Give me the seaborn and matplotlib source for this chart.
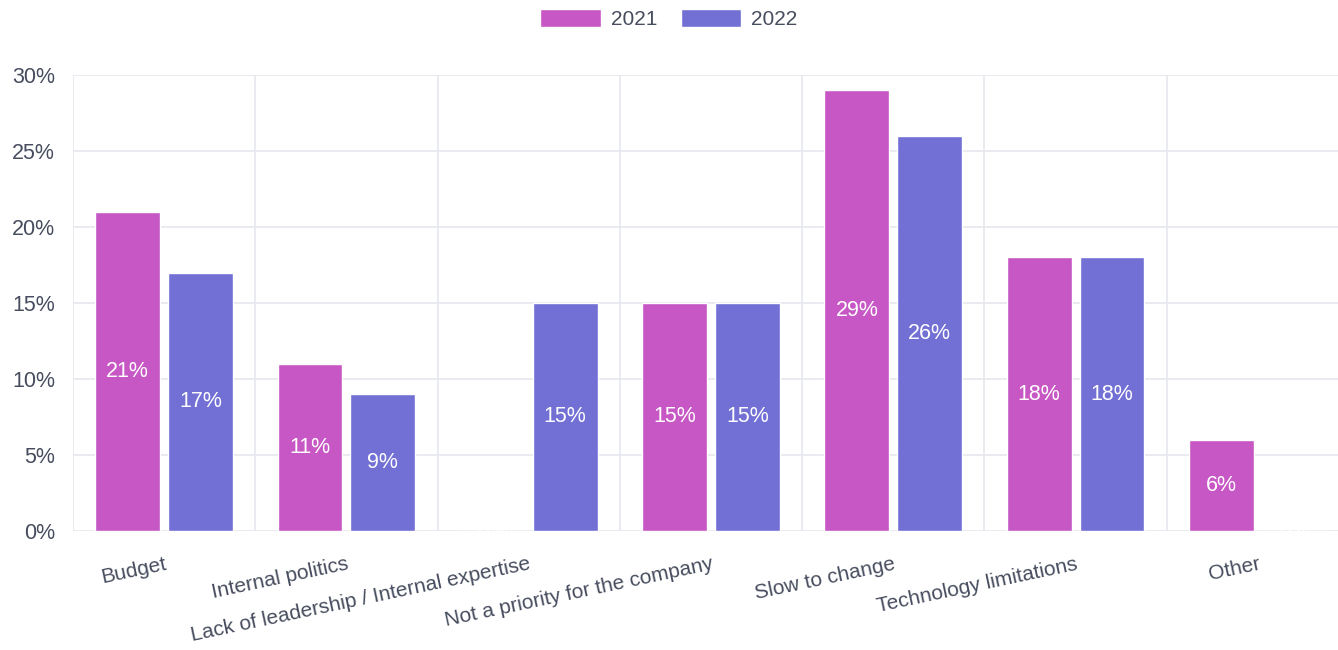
import pandas as pd
import numpy as np
import matplotlib
matplotlib.use("Agg")
import matplotlib.pyplot as plt
from matplotlib.patches import Patch
import seaborn as sns

categories = ["Budget", "Internal politics", "Lack of leadership / Internal expertise",
              "Not a priority for the company", "Slow to change",
              "Technology limitations", "Other"]
years = ["2021", "2022"]
values_2021 = [21, 11, 0, 15, 29, 18, 6]
values_2022 = [17, 9, 15, 15, 26, 18, 0]
y_ticks = [0, 5, 10, 15, 20, 25, 30]

colors = {"2021": "#C757C4", "2022": "#7270D4"}
grid_col = "#E6E8EE"
text_col = "#474D5E"

df = pd.DataFrame({
    "category": categories * 2,
    "year": ["2021"] * len(categories) + ["2022"] * len(categories),
    "value": values_2021 + values_2022,
})

sns.set_theme(style="white")
plt.rcParams["font.family"] = ["Liberation Sans", "DejaVu Sans"]

fig = plt.figure(figsize=(13.38, 6.5), dpi=100)
ax = fig.add_axes([73 / 1338, 1 - 531 / 650, (1349 - 73) / 1338, (531 - 75) / 650])

sns.barplot(data=df, x="category", y="value", hue="year", order=categories,
            hue_order=years, palette=colors, width=0.8, gap=0.11,
            saturation=1, legend=False, ax=ax)

# labels in the middle of each bar
for container in ax.containers:
    for bar in container:
        h = bar.get_height()
        ax.text(bar.get_x() + bar.get_width() / 2, h / 2, f"{h:.0f}%",
                ha="center", va="center", color="white", fontsize=15.5)

ax.set_xlim(-0.5, len(categories) - 0.5)
ax.set_ylim(0, 30)
ax.set_yticks(y_ticks)
ax.set_yticklabels([f"{t}%" for t in y_ticks])
ax.set_xticks(range(len(categories)))
ax.set_xticklabels(categories, rotation=12, ha="right", rotation_mode="anchor")
ax.set_xticks(np.arange(-0.5, len(categories), 1), minor=True)
ax.set_xlabel("")
ax.set_ylabel("")

ax.set_axisbelow(True)
ax.grid(axis="y", which="major", color=grid_col, linewidth=1.2)
ax.grid(axis="x", which="minor", color=grid_col, linewidth=1.2)
ax.grid(axis="x", which="major", visible=False)
ax.tick_params(axis="x", which="major", length=0, pad=17, labelsize=15, labelcolor=text_col)
ax.tick_params(axis="x", which="minor", length=10, color=grid_col, width=1.2)
ax.tick_params(axis="y", length=9, color=grid_col, width=1.2, pad=4, labelsize=15.5, labelcolor=text_col)
for s in ax.spines.values():
    s.set_visible(False)

handles = [Patch(facecolor=colors[y], label=y) for y in years]
fig.legend(handles=handles, loc="center", bbox_to_anchor=(0.5, 1 - 19 / 650), ncol=2,
           frameon=False, fontsize=15, handlelength=2.9, handleheight=1.0,
           handletextpad=0.5, columnspacing=1.1, labelcolor=text_col)

fig.savefig("out.png", dpi=100)
